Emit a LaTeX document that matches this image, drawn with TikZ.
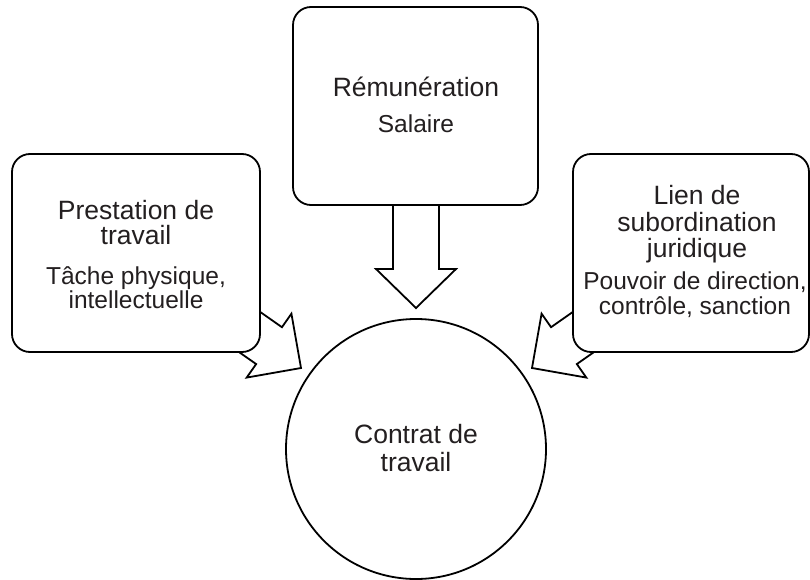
\documentclass[tikz,border=0pt]{standalone}
\usepackage{fontspec}
\setmainfont{Liberation Sans}
\definecolor{ink}{RGB}{35,31,32}
\begin{document}
\begin{tikzpicture}[x=1pt,y=-1pt,
  box/.style={draw=black, fill=white, rounded corners=18pt, line width=1.8pt, inner sep=0pt},
  blockarrow/.style={draw=black, fill=white, line width=1.8pt, line join=miter},
  ttl/.style={anchor=base, text=ink, inner sep=0pt, font=\fontsize{26.5}{26.5}\selectfont},
  sub/.style={anchor=base, text=ink, inner sep=0pt, font=\fontsize{24.5}{24.5}\selectfont}]
\useasboundingbox (0,0) rectangle (810,580);

% tips of the block arrows
\coordinate (tipT) at (416,308);
\coordinate (tipL) at (301,368);
\coordinate (tipR) at (532,368);

% block arrows (behind boxes)
\begin{scope}[shift={(tipT)}, rotate=-90]
  \draw[blockarrow] (0,0) -- (-39,-40) -- (-39,-23) -- (-110,-23) -- (-110,23) -- (-39,23) -- (-39,40) -- cycle;
\end{scope}
\begin{scope}[shift={(tipL)}, rotate=-35]
  \draw[blockarrow] (0,0) -- (-39,-39) -- (-39,-22.5) -- (-120,-22.5) -- (-120,22.5) -- (-39,22.5) -- (-39,39) -- cycle;
\end{scope}
\begin{scope}[shift={(tipR)}, rotate=-145]
  \draw[blockarrow] (0,0) -- (-39,-39) -- (-39,-22.5) -- (-120,-22.5) -- (-120,22.5) -- (-39,22.5) -- (-39,39) -- cycle;
\end{scope}

% boxes
\node[box, minimum width=248pt, minimum height=198pt] (L) at (136,253) {};
\node[box, minimum width=245pt, minimum height=198pt] (T) at (415.5,106) {};
\node[box, minimum width=236pt, minimum height=198pt] (R) at (691,253) {};
\node[draw=black, line width=1.8pt, circle, fill=white, minimum size=260pt, inner sep=0pt] (C) at (416,449) {};

% texts
\node[ttl] (l1) at (136,219) {Prestation de};
\node[ttl] (l2) at (136,244.5) {travail};
\node[sub] (l3) at (136,284) {Tâche physique,};
\node[sub] (l4) at (136,308) {intellectuelle};

\node[ttl] (t1) at (416,97) {Rémunération};
\node[sub] (t2) at (416,133) {Salaire};

\node[ttl] (r1) at (697,204.5) {Lien de};
\node[ttl] (r2) at (697,231.5) {subordination};
\node[ttl] (r3) at (697,257.5) {juridique};
\node[sub] (r4) at (695,289) {Pouvoir de direction,};
\node[sub] (r5) at (695,314) {contrôle, sanction};

\node[ttl] (c1) at (416,443) {Contrat de};
\node[ttl] (c2) at (416,471) {travail};
\end{tikzpicture}
\end{document}
